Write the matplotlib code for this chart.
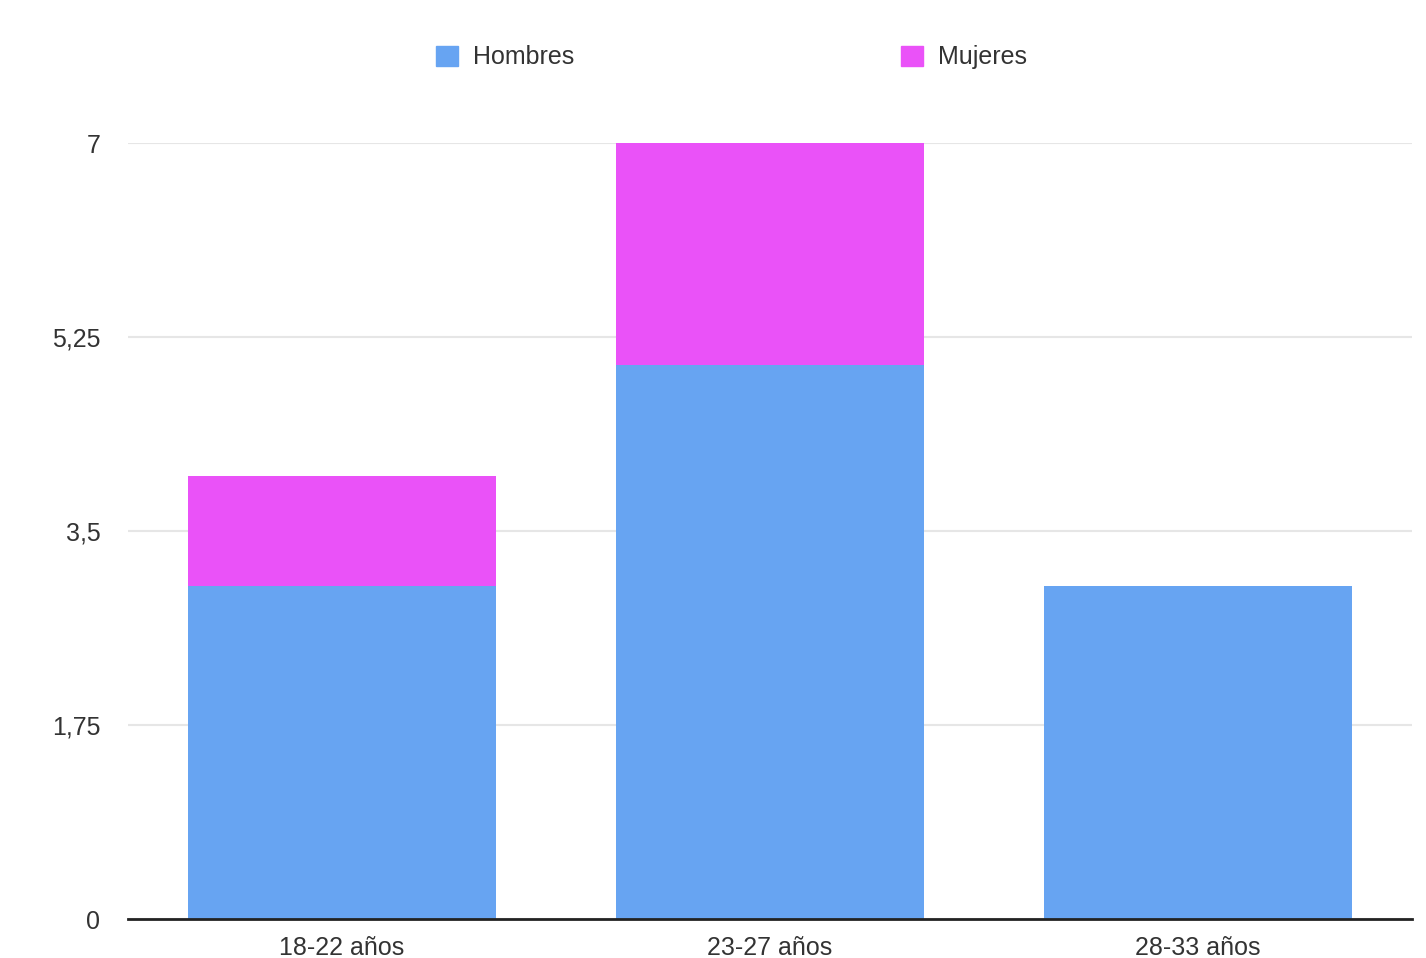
import matplotlib.pyplot as plt
from matplotlib.patches import Patch

plt.rcParams['font.family'] = ['Liberation Sans', 'DejaVu Sans']

grupos = ['18-22 años', '23-27 años', '28-33 años']
hombres = [3, 5, 3]
mujeres = [1, 2, 0]
ticks_y = [0, 1.75, 3.5, 5.25, 7]
etiquetas_y = ['0', '1,75', '3,5', '5,25', '7']

color_h = '#67a4f2'
color_m = '#ea52f8'

fig = plt.figure(figsize=(14.26, 9.58), dpi=100)
ax = fig.add_axes([0.0898, 0.0407, 0.9002, 0.81])

x = range(len(grupos))
ax.bar(x, hombres, width=0.72, color=color_h, zorder=2)
ax.bar(x, mujeres, width=0.72, bottom=hombres, color=color_m, zorder=2)

ax.set_xlim(-0.5, 2.5)
ax.set_ylim(0, 7)
ax.set_yticks(ticks_y)
ax.set_yticklabels(etiquetas_y)
ax.set_xticks(list(x))
ax.set_xticklabels(grupos)
ax.tick_params(axis='y', length=0, pad=20, labelsize=18, labelcolor='#333333')
ax.tick_params(axis='x', length=0, pad=12, labelsize=18, labelcolor='#333333')
ax.yaxis.grid(True, color='#e6e6e6', linewidth=1.5, zorder=0)

for lado in ['top', 'right', 'left']:
    ax.spines[lado].set_visible(False)
ax.spines['bottom'].set_color('#222222')
ax.spines['bottom'].set_linewidth(2)
ax.spines['bottom'].set_zorder(3)

handles = [Patch(color=color_h, label='Hombres'), Patch(color=color_m, label='Mujeres')]
fig.legend(handles=handles, loc='center', bbox_to_anchor=(0.513, 0.94), ncol=2,
           frameon=False, fontsize=18, handlelength=0.85, handleheight=0.85,
           handletextpad=0.6, columnspacing=13.1, labelcolor='#333333')

fig.savefig('out.png', dpi=100)
